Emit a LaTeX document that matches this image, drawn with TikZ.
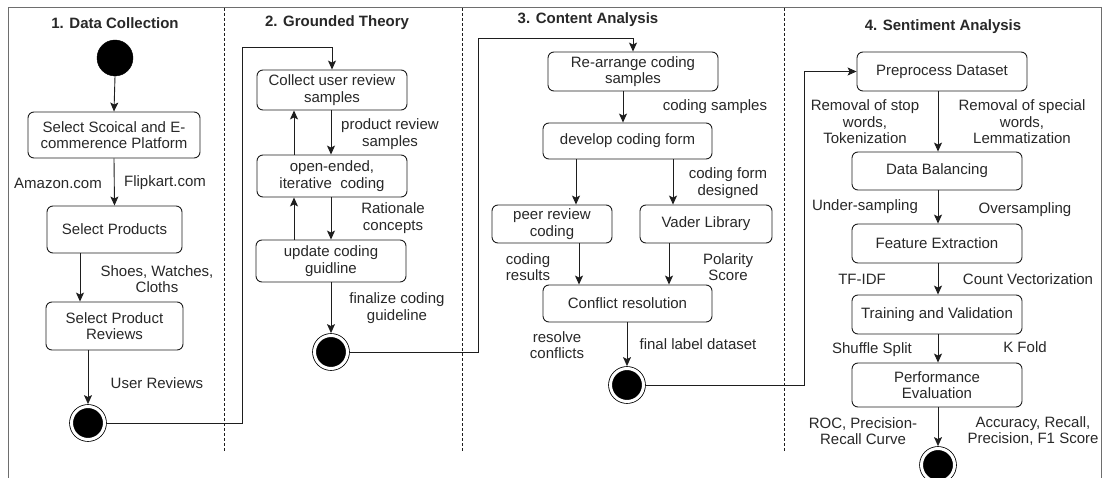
\documentclass[tikz,border=0pt]{standalone}
\usepackage{fontspec}
\setmainfont{Liberation Sans}
\usetikzlibrary{arrows.meta}
\definecolor{ink}{RGB}{30,30,30}
\definecolor{txt}{RGB}{40,40,40}
\definecolor{frame}{RGB}{110,110,110}
\tikzset{
  box/.style={draw=ink, line width=0.9pt, rounded corners=6pt, align=center, inner sep=2pt, text=txt},
  lbl/.style={align=center, inner sep=0pt, text=txt},
  ttl/.style={inner sep=0pt, text=txt, font=\fontsize{15}{16.5}\selectfont\bfseries},
  arr/.style={draw=ink, line width=0.9pt, -{Stealth[length=9pt,width=8pt,inset=2pt]}},
  startnode/.style={circle, fill=black, draw=black, minimum size=36pt, inner sep=0pt},
  endnode/.style={circle, fill=black, draw=black, line width=0.8pt, double=white, double distance=3pt, minimum size=33pt, inner sep=0pt, outer sep=2.4pt},
  divider/.style={draw=ink, line width=0.8pt, dash pattern=on 3pt off 2pt},
}
\begin{document}
\begin{tikzpicture}[x=1pt,y=-1pt, font=\fontsize{15}{16.5}\selectfont]
\clip (0,0) rectangle (1105,478);
\fill[white] (0,0) rectangle (1105,478);
% frame
\draw[frame, line width=1pt] (8,500) -- (8,8) -- (1101,8) -- (1101,500);
% dividers
\draw[divider] (224,8) -- (224,452);
\draw[divider] (462,8) -- (462,452);
\draw[divider] (784,8) -- (784,452);
% titles
\node[ttl] (t1) at (115,23) {1. Data Collection};
\node[ttl] (t2) at (337,23) {2. Grounded Theory};
\node[ttl] (t3) at (588,20) {3. Content Analysis};
\node[ttl] (t4) at (943,27) {4. Sentiment Analysis};
% column 1
\node[startnode] (s1) at (115,58) {};
\node[box, minimum width=172pt, minimum height=46pt] (b1) at (114,135) {Select Scoical and E-\\commerence Platform};
\node[box, minimum width=135pt, minimum height=47pt] (b2) at (114.5,229.5) {Select Products};
\node[box, minimum width=137pt, minimum height=48pt] (b3) at (114.5,326) {Select Product\\Reviews};
\node[endnode] (e1) at (88,423) {};
\draw[arr] (s1.south) -- (b1.north);
\draw[arr] (b1.south) -- (b2.north);
\draw[arr] (b2.south -| 80,0) -- (b3.north -| 80,0);
\draw[arr] (b3.south -| e1) -- (e1.north);
\node[lbl] (l1) at (58,183) {Amazon.com};
\node[lbl] (l2) at (165,183) {Flipkart.com};
\node[lbl] (l3) at (157,279) {Shoes, Watches,\\Cloths};
\node[lbl] (l4) at (157,383) {User Reviews};
% column 2
\node[box, minimum width=150pt, minimum height=40pt] (b4) at (332,90) {Collect user review\\samples};
\node[box, minimum width=150pt, minimum height=42pt] (b5) at (332,176) {open-ended,\\iterative~ coding};
\node[box, minimum width=150pt, minimum height=42pt] (b6) at (331,261) {update coding\\guidline};
\node[endnode] (e2) at (331,352) {};
\draw[arr] (e1.east) -| (242,47) -| (b4.north);
\draw[arr] (b4.south -| 331,0) -- (b5.north -| 331,0);
\draw[arr] (b5.north -| 294,0) -- (b4.south -| 294,0);
\draw[arr] (b5.south -| 331,0) -- (b6.north -| 331,0);
\draw[arr] (b6.north -| 294,0) -- (b5.south -| 294,0);
\draw[arr] (b6.south -| e2) -- (e2.north);
\node[lbl] (l5) at (390,134) {product review\\samples};
\node[lbl] (l6) at (393,218) {Rationale\\concepts};
\node[lbl] (l7) at (397,308) {finalize coding\\guideline};
% column 3
\node[box, minimum width=170pt, minimum height=39pt] (b7) at (633,71.5) {Re-arrange coding\\samples};
\node[box, minimum width=169pt, minimum height=36pt] (b8) at (627.5,141) {develop coding form};
\node[box, minimum width=120pt, minimum height=38pt] (b9) at (552,224) {peer review\\coding};
\node[box, minimum width=132pt, minimum height=38pt] (b10) at (706,224) {Vader Library};
\node[box, minimum width=169pt, minimum height=37pt] (b11) at (627.5,303.5) {Conflict resolution};
\node[endnode] (e3) at (627,385) {};
\draw[arr] (e2.east) -| (478,38) -| (b7.north);
\draw[arr] (b7.south -| 623,0) -- (b8.north -| 623,0);
\draw[arr] (b8.south -| 576,0) -- (b9.north -| 576,0);
\draw[arr] (b8.south -| 673,0) -- (b10.north -| 673,0);
\draw[arr] (b9.south -| 579,0) -- (b11.north -| 579,0);
\draw[arr] (b10.south -| 669,0) -- (b11.north -| 669,0);
\draw[arr] (b11.south -| e3) -- (e3.north);
\node[lbl] (l8) at (715,107) {coding samples};
\node[lbl] (l9) at (728,183) {coding form\\designed};
\node[lbl] (l10) at (528,267) {coding\\results};
\node[lbl] (l11) at (728,267) {Polarity\\Score};
\node[lbl] (l12) at (557,345) {resolve\\conflicts};
\node[lbl] (l13) at (698,344) {final label dataset};
% column 4
\node[box, minimum width=170pt, minimum height=39pt] (b12) at (942,71.5) {Preprocess Dataset};
\node[box, minimum width=170pt, minimum height=38pt] (b13) at (937,171) {Data Balancing};
\node[box, minimum width=170pt, minimum height=39pt] (b14) at (937,243.5) {Feature Extraction};
\node[box, minimum width=170pt, minimum height=39pt] (b15) at (937,314.5) {Training and Validation};
\node[box, minimum width=170pt, minimum height=44pt] (b16) at (937,385) {Performance\\Evaluation};
\node[endnode] (e4) at (938,465) {};
\draw[arr] (e3.east) -| (804,71.5) -- (b12.west);
\draw[arr] (b12.south -| 938,0) -- (b13.north -| 938,0);
\draw[arr] (b13.south -| 938,0) -- (b14.north -| 938,0);
\draw[arr] (b14.south -| 938,0) -- (b15.north -| 938,0);
\draw[arr] (b15.south -| 938,0) -- (b16.north -| 938,0);
\draw[arr] (b16.south -| e4) -- (e4.north);
\node[lbl] (l14) at (865,122) {Removal of stop\\words,\\Tokenization};
\node[lbl] (l15) at (1022,122) {Removal of special\\words,\\Lemmatization};
\node[lbl] (l16) at (865,207) {Under-sampling};
\node[lbl] (l17) at (1025,210) {Oversampling};
\node[lbl] (l18) at (862,279) {TF-IDF};
\node[lbl] (l19) at (1028,279) {Count Vectorization};
\node[lbl] (l20) at (872,350) {Shuffle Split};
\node[lbl] (l21) at (1025,347) {K Fold};
\node[lbl] (l22) at (863,431) {ROC, Precision-\\Recall Curve};
\node[lbl] (l23) at (1033,431) {Accuracy, Recall,\\Precision, F1 Score};
\end{tikzpicture}
\end{document}
